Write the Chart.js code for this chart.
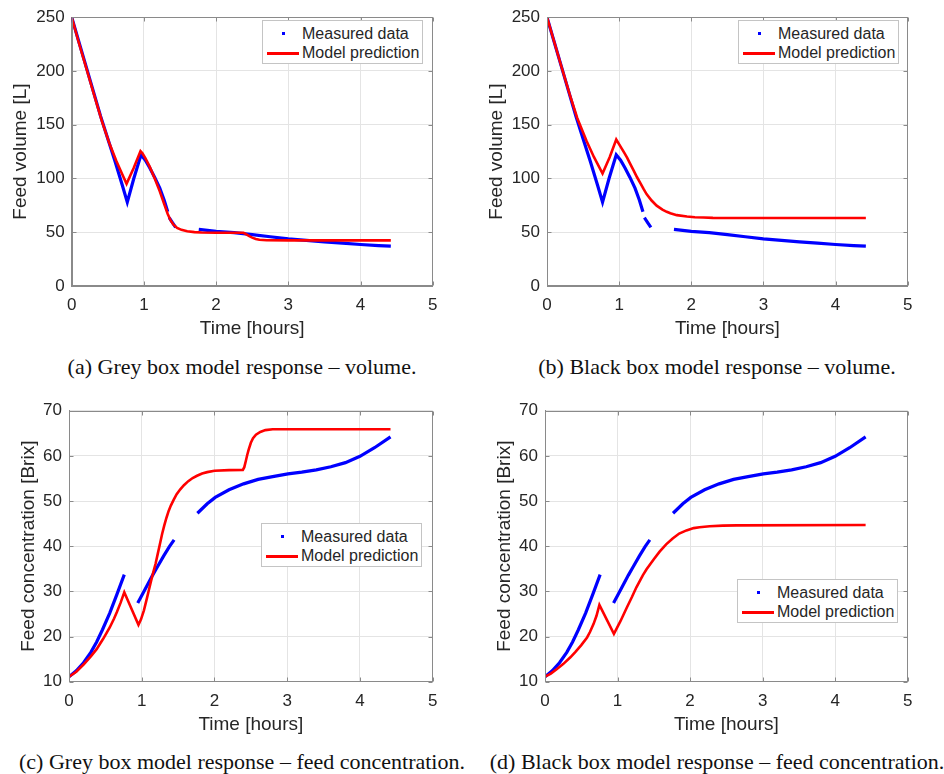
<!DOCTYPE html>
<html>
<head>
<meta charset="utf-8">
<script src="https://cdn.jsdelivr.net/npm/chart.js@4.4.0/dist/chart.umd.min.js"></script>
<style>
  html, body { margin:0; padding:0; background:#ffffff; }
  body { width:944px; height:774px; position:relative; overflow:hidden; font-family:"Liberation Sans", Arial, sans-serif; }
  canvas.panel { position:absolute; }
  .cap { position:absolute; font-family:"Liberation Serif","Times New Roman",serif; font-size:22px; color:#111; white-space:nowrap; transform:translate(-50%,-50%); line-height:24px; }
  .legend { position:absolute; background:#fff; border:1px solid #c4c4c4; box-sizing:border-box; font-size:16px; color:#262626; }
  .legend .txt { position:absolute; left:39px; line-height:20px; white-space:nowrap; }
  .legend .dot { position:absolute; width:3px; height:3px; background:#0000ff; }
  .legend .ln { position:absolute; height:3px; background:#ff0000; }
</style>
</head>
<body>
<canvas id="pa" class="panel" width="470" height="350" style="left:0px;top:0px;"></canvas>
<canvas id="pb" class="panel" width="474" height="350" style="left:470px;top:0px;"></canvas>
<canvas id="pc" class="panel" width="470" height="365" style="left:0px;top:380px;"></canvas>
<canvas id="pd" class="panel" width="474" height="365" style="left:470px;top:380px;"></canvas>

<div class="cap" style="left:242px;top:367px;">(a) Grey box model response – volume.</div>
<div class="cap" style="left:717px;top:367px;">(b) Black box model response – volume.</div>
<div class="cap" style="left:242px;top:762px;">(c) Grey box model response – feed concentration.</div>
<div class="cap" style="left:717px;top:762px;">(d) Black box model response – feed concentration.</div>

<script>
// ---------------- DATA ----------------
const legendLabels = ["Measured data", "Model prediction"];
const xLabel = "Time [hours]";
const volLabel = "Feed volume [L]";
const concLabel = "Feed concentration [Brix]";
const xTicks = [0, 1, 2, 3, 4, 5];
const volTicks = [0, 50, 100, 150, 200, 250];
const concTicks = [10, 20, 30, 40, 50, 60, 70];

// Measured feed volume (null = gap in the record)
const measVolT = [0, 0.1, 0.2, 0.3, 0.4, 0.5, 0.6, 0.7, 0.77, 0.86, 0.96, 1.02, 1.08, 1.15, 1.22, 1.28, 1.33, 1.34, 1.35, 1.4, 1.44, 1.6, 1.76, 2.0, 2.25, 2.5, 2.75, 3.0, 3.25, 3.5, 3.75, 4.0, 4.25, 4.42];
const measVolV = [250, 227, 204, 181, 158, 137, 116, 94, 78, 100, 122, 117, 110, 101, 91, 80, 69, null, 63.5, 58.5, 54.5, null, 52.6, 50.8, 49.6, 47.8, 45.8, 43.9, 42.4, 41.1, 39.8, 38.6, 37.6, 37];

// Grey box model – volume
const greyVolT = [0, 0.1, 0.2, 0.3, 0.42, 0.52, 0.62, 0.7, 0.76, 0.86, 0.953, 0.98, 1.02, 1.08, 1.15, 1.22, 1.28, 1.33, 1.37, 1.41, 1.46, 1.52, 1.6, 1.7, 1.8, 2.0, 2.38, 2.42, 2.46, 2.5, 2.55, 2.6, 2.7, 3.0, 4.42];
const greyVolV = [250, 226, 203, 180, 153, 133, 116, 104, 95, 110, 125.5, 123.5, 119, 111, 100, 88, 76.5, 67, 61, 57, 54, 52.2, 50.9, 50.1, 49.8, 49.5, 49.5, 48, 46.3, 45, 43.8, 43, 42.5, 42.4, 42.4];

// Black box model – volume
const blackVolT = [0, 0.1, 0.2, 0.32, 0.42, 0.55, 0.65, 0.77, 0.87, 0.96, 1.03, 1.07, 1.11, 1.15, 1.2, 1.25, 1.3, 1.34, 1.38, 1.45, 1.52, 1.6, 1.66, 1.71, 1.8, 1.94, 2.05, 2.17, 2.3, 2.45, 4.42];
const blackVolV = [250, 227, 204, 177, 156, 134.7, 120, 104.6, 120, 136.2, 128.5, 124, 119.3, 114, 107.5, 100.9, 95, 90, 85.5, 79.5, 74.7, 71, 69, 67.6, 65.9, 64.6, 64.0, 63.7, 63.4, 63.3, 63.3];

// Measured feed concentration
const measConcT = [0, 0.1, 0.2, 0.3, 0.38, 0.46, 0.56, 0.66, 0.76, 0.85, 0.945, 1.05, 1.15, 1.21, 1.3, 1.38, 1.445, 1.6, 1.765, 1.9, 2.01, 2.2, 2.4, 2.6, 2.8, 3.01, 3.2, 3.4, 3.6, 3.8, 4.0, 4.2, 4.42];
const measConcV = [11.1, 12.4, 14.2, 16.5, 18.8, 21.5, 25.2, 29.4, 33.7, null, 27.4, 30.6, 33.6, 35.3, 37.8, 39.9, 41.4, null, 47.3, 49.4, 50.8, 52.5, 53.8, 54.8, 55.4, 56.0, 56.4, 56.9, 57.6, 58.5, 59.9, 61.8, 64.2];

// Grey box model – concentration
const greyConcT = [0, 0.1, 0.2, 0.3, 0.38, 0.47, 0.56, 0.62, 0.66, 0.71, 0.76, 0.955, 0.99, 1.03, 1.07, 1.1, 1.13, 1.16, 1.19, 1.22, 1.25, 1.28, 1.31, 1.34, 1.37, 1.4, 1.44, 1.48, 1.53, 1.58, 1.64, 1.7, 1.76, 1.83, 1.9, 2.0, 2.2, 2.39, 2.41, 2.43, 2.45, 2.47, 2.5, 2.53, 2.57, 2.63, 2.7, 2.8, 4.42];
const greyConcV = [11.1, 12.2, 13.8, 15.6, 17.2, 19.5, 22.0, 24.0, 25.5, 27.5, 29.8, 22.6, 23.8, 25.8, 28.4, 30.4, 32.4, 34.3, 36.1, 38.3, 40.5, 42.7, 44.6, 46.3, 47.8, 49.0, 50.3, 51.5, 52.6, 53.5, 54.4, 55.1, 55.6, 56.1, 56.4, 56.7, 56.85, 56.9, 57.5, 58.8, 60.2, 61.4, 62.9, 63.9, 64.7, 65.3, 65.7, 65.9, 65.9];

// Black box model – concentration
const blackConcT = [0, 0.08, 0.165, 0.25, 0.35, 0.42, 0.5, 0.58, 0.62, 0.67, 0.71, 0.75, 0.95, 1.04, 1.13, 1.2, 1.26, 1.35, 1.4, 1.5, 1.58, 1.67, 1.76, 1.85, 1.95, 2.05, 2.13, 2.27, 2.45, 2.64, 4.42];
const blackConcV = [11.1, 11.8, 12.8, 13.9, 15.4, 16.6, 18.1, 19.8, 21.0, 22.8, 24.6, 27.0, 20.6, 23.4, 26.5, 28.8, 30.9, 33.6, 34.9, 37.1, 38.8, 40.4, 41.7, 42.8, 43.5, 44.0, 44.2, 44.4, 44.55, 44.6, 44.7];

// ---------------- RENDERING ----------------
const FONT = '"Liberation Sans", Arial, sans-serif';
const TXT = '#262626';
const BOX = '#8a8a8a';
const GRID = '#e4e4e4';

function pts(t, v) { return t.map((x, i) => ({ x: x, y: v[i] })); }

const boxPlugin = {
  id: 'matlabBox',
  afterDatasetsDraw(chart) {
    const { ctx, chartArea: a, scales } = chart;
    ctx.save();
    ctx.strokeStyle = BOX;
    ctx.lineWidth = 1;
    const L = Math.round(a.left) + 0.5, R = Math.round(a.right) - 0.5;
    const T = Math.round(a.top) + 0.5, B = Math.round(a.bottom) - 0.5;
    ctx.strokeRect(L, T, R - L, B - T);
    ctx.beginPath();
    scales.x.ticks.forEach(tk => {
      const p = Math.round(scales.x.getPixelForValue(tk.value)) + 0.5;
      ctx.moveTo(p, B); ctx.lineTo(p, B - 4);
      ctx.moveTo(p, T); ctx.lineTo(p, T + 4);
    });
    scales.y.ticks.forEach(tk => {
      const p = Math.round(scales.y.getPixelForValue(tk.value)) + 0.5;
      ctx.moveTo(L, p); ctx.lineTo(L + 4, p);
      ctx.moveTo(R, p); ctx.lineTo(R - 4, p);
    });
    ctx.stroke();
    ctx.restore();
  }
};

function makePanel(id, spec) {
  const cv = document.getElementById(id);
  const W = cv.width, H = cv.height;
  const XH = 60;
  new Chart(cv, {
    type: 'scatter',
    data: {
      datasets: [
        { label: legendLabels[1], data: pts(spec.mt, spec.mv), showLine: true, borderColor: '#ff0000', backgroundColor: '#ff0000', borderWidth: 2.6, pointRadius: 0, tension: 0, spanGaps: false, order: 1 },
        { label: legendLabels[0], data: pts(spec.dt, spec.dv), showLine: true, borderColor: '#0000ff', backgroundColor: '#0000ff', borderWidth: 3.2, pointRadius: 0, tension: 0, spanGaps: false, order: 2 }
      ]
    },
    options: {
      responsive: false,
      animation: false,
      devicePixelRatio: 1,
      layout: { padding: { left: 0, top: spec.top, right: W - spec.right, bottom: H - spec.bottom - XH } },
      plugins: { legend: { display: false }, tooltip: { enabled: false } },
      scales: {
        x: {
          type: 'linear', min: xTicks[0], max: xTicks[xTicks.length - 1],
          afterBuildTicks: s => { s.ticks = xTicks.map(v => ({ value: v })); },
          afterFit: s => { s.height = XH; },
          ticks: { font: { family: FONT, size: 17 }, color: TXT, padding: 9, maxRotation: 0 },
          grid: { color: GRID, drawTicks: false },
          border: { color: BOX },
          title: { display: true, text: xLabel, color: TXT, font: { family: FONT, size: 19, lineHeight: 1.2 }, padding: { top: 0, bottom: XH - 43 - 11.4 } }
        },
        y: {
          type: 'linear', min: spec.yt[0], max: spec.yt[spec.yt.length - 1],
          afterBuildTicks: s => { s.ticks = spec.yt.map(v => ({ value: v })); },
          afterFit: s => { s.width = spec.left; },
          ticks: { font: { family: FONT, size: 17 }, color: TXT, padding: 7 },
          grid: { color: GRID, drawTicks: false },
          border: { color: BOX },
          title: { display: true, text: spec.ylab, color: TXT, font: { family: FONT, size: 19, lineHeight: 1.2 }, padding: { top: spec.left - spec.tgap - 11.4, bottom: 0 } }
        }
      }
    },
    plugins: [boxPlugin]
  });
}

makePanel('pa', { left: 71.7, top: 15, right: 432.7, bottom: 286, yt: volTicks, ylab: volLabel, tgap: 51, dt: measVolT, dv: measVolV, mt: greyVolT, mv: greyVolV });
makePanel('pb', { left: 77, top: 15, right: 437.7, bottom: 286, yt: volTicks, ylab: volLabel, tgap: 50.5, dt: measVolT, dv: measVolV, mt: blackVolT, mv: blackVolV });
makePanel('pc', { left: 69, top: 30.7, right: 432.7, bottom: 301.7, yt: concTicks, ylab: concLabel, tgap: 40.7, dt: measConcT, dv: measConcV, mt: greyConcT, mv: greyConcV });
makePanel('pd', { left: 75, top: 30.7, right: 437.7, bottom: 301.7, yt: concTicks, ylab: concLabel, tgap: 40.7, dt: measConcT, dv: measConcV, mt: blackConcT, mv: blackConcV });

// HTML legends (boxes inside the axes)
function addLegend(x, y) {
  const d = document.createElement('div');
  d.className = 'legend';
  d.style.left = x + 'px'; d.style.top = y + 'px';
  d.style.width = '161px'; d.style.height = '44px';
  d.innerHTML =
    '<div class="dot" style="left:19px;top:11px"></div>' +
    '<div class="txt" style="top:3px">' + legendLabels[0] + '</div>' +
    '<div class="ln" style="left:4px;width:32px;top:31px"></div>' +
    '<div class="txt" style="top:22px">' + legendLabels[1] + '</div>';
  document.body.appendChild(d);
}
addLegend(262, 20);
addLegend(738, 20);
addLegend(261, 523);
addLegend(737, 579);
</script>
</body>
</html>
